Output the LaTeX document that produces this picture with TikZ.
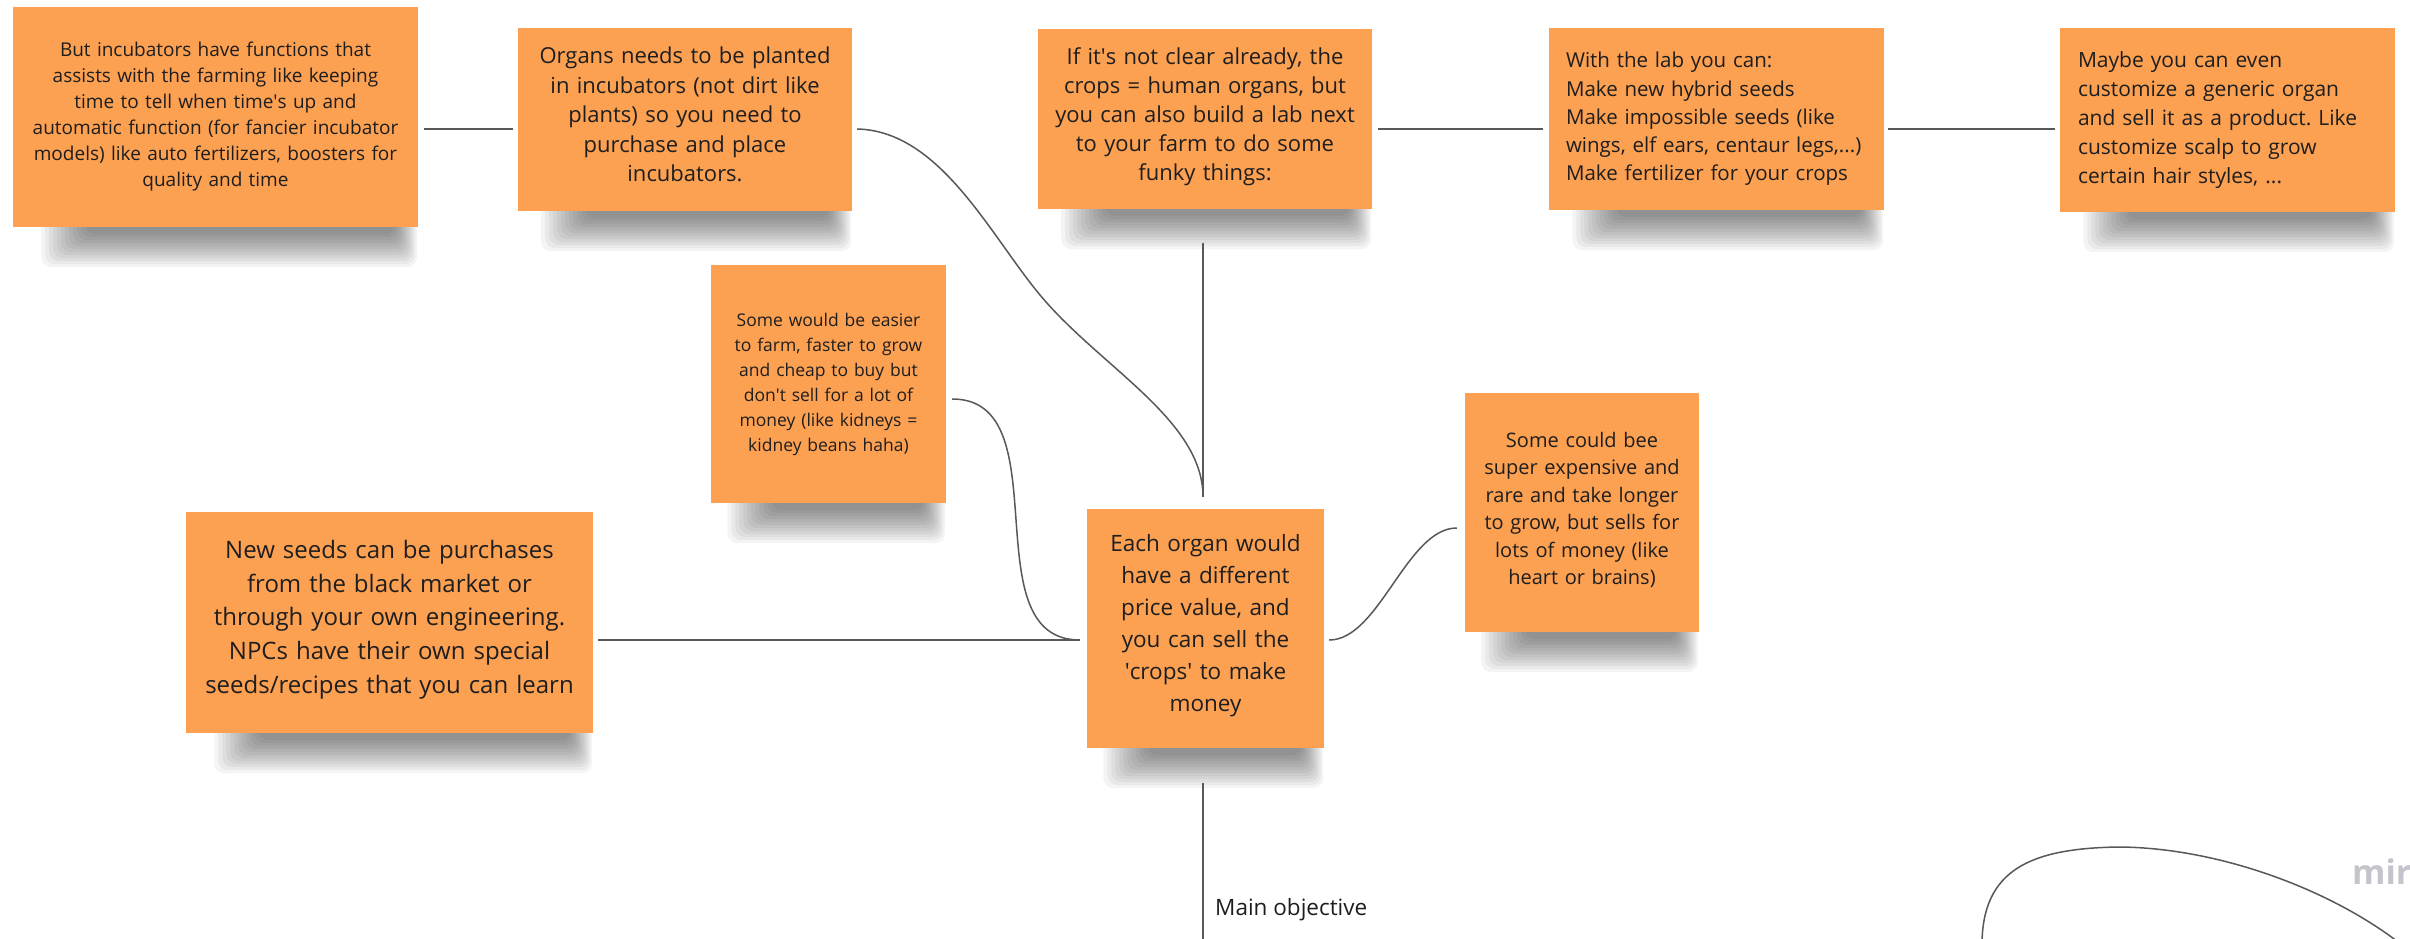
\documentclass[tikz,border=0pt]{standalone}
\usepackage{fontspec}
\setmainfont{Open Sans}
\frenchspacing
\usetikzlibrary{calc}
\pgfdeclarelayer{bg}
\pgfsetlayers{bg,main}

\definecolor{noteorange}{RGB}{252,160,82}
\definecolor{notetext}{RGB}{30,30,30}
\definecolor{linkgray}{RGB}{88,88,88}
\definecolor{watermark}{RGB}{196,196,204}

\newcommand{\apos}{\textquotesingle}
\newcommand{\fsz}[2]{\fontsize{#1pt}{#2pt}\selectfont}

% soft drop shadow under the bottom edge of a sticky note
\newcommand{\notedrop}[1]{%
  \foreach \i in {0,...,11}{%
    \fill[black,opacity=0.045,rounded corners=10pt]
      let \p1=(#1.south west), \p2=(#1.south east) in
      ({\x1+0.07*(\x2-\x1)+4pt*\i},{\y1+15pt}) rectangle
      ({\x2-1pt-2pt*\i},{\y1-40pt+3pt*\i});
  }%
}

\tikzset{
  note/.style={fill=noteorange, text=notetext, inner xsep=5pt, inner ysep=0pt,
    align=center, anchor=center},
  leftnote/.style={note, align=left},
  lift/.style={execute at end node={\par\vspace*{#1}}},
  conn/.style={draw=linkgray, line width=1.5pt},
}

\begin{document}
\begin{tikzpicture}[x=1pt,y=-1pt]
\useasboundingbox (0,0) rectangle (2410,939);
\clip (0,0) rectangle (2410,939);

% sticky notes
\node[note, minimum width=405pt, minimum height=220pt, text width=395pt, font=\fsz{19}{26}] (A) at (215.5,117)
  {But incubators have functions that\\assists with the farming like keeping\\time to tell when time\apos s up and\\automatic function (for fancier incubator\\models) like auto fertilizers, boosters for\\quality and time};
\node[note, lift=10pt, minimum width=334pt, minimum height=183pt, text width=324pt, font=\fsz{22}{29.4}] (B) at (685,119.5)
  {Organs needs to be planted\\in incubators (not dirt like\\plants) so you need to\\purchase and place\\incubators.};
\node[note, lift=5pt, minimum width=334pt, minimum height=180pt, text width=324pt, font=\fsz{22}{29}] (C) at (1205,119)
  {If it\apos s not clear already, the\\crops = human organs, but\\you can also build a lab next\\to your farm to do some\\funky things:};
\node[leftnote, inner xsep=17pt, minimum width=335pt, minimum height=182pt, text width=301pt, font=\fsz{20.5}{28.3}] (D) at (1716.5,119)
  {With the lab you can:\\Make new hybrid seeds\\Make impossible seeds (like\\wings, elf ears, centaur legs,...)\\Make fertilizer for your crops};
\node[leftnote, inner xsep=18pt, minimum width=335pt, minimum height=184pt, text width=299pt, font=\fsz{21}{29}] (E) at (2227.5,120)
  {Maybe you can even\\customize a generic organ\\and sell it as a product. Like\\customize scalp to grow\\certain hair styles, ...};
\node[note, minimum width=235pt, minimum height=238pt, text width=225pt, font=\fsz{17.5}{25}] (F) at (828.5,384)
  {Some would be easier\\to farm, faster to grow\\and cheap to buy but\\don\apos t sell for a lot of\\money (like kidneys =\\kidney beans haha)};
\node[note, lift=6pt, minimum width=237pt, minimum height=239pt, text width=227pt, font=\fsz{22.5}{32}] (G) at (1205.5,628.5)
  {Each organ would\\have a different\\price value, and\\you can sell the\\\apos crops\apos{} to make\\money};
\node[note, lift=5pt, minimum width=234pt, minimum height=239pt, text width=224pt, font=\fsz{20}{27.4}] (H) at (1582,512.5)
  {Some could bee\\super expensive and\\rare and take longer\\to grow, but sells for\\lots of money (like\\heart or brains)};
\node[note, lift=6pt, minimum width=407pt, minimum height=221pt, text width=397pt, font=\fsz{24}{33.7}] (I) at (389.5,622.5)
  {New seeds can be purchases\\from the black market or\\through your own engineering.\\NPCs have their own special\\seeds/recipes that you can learn};

\begin{pgfonlayer}{bg}
  \fill[white] (0,0) rectangle (2410,939);
  \foreach \notename in {A,B,C,D,E,F,G,H,I}{\notedrop{\notename}}
\end{pgfonlayer}

% heights at which the connectors meet the notes
\coordinate (row) at (0,129);
\coordinate (ig) at (0,640);
\coordinate (fg) at (0,399);
\coordinate (gh) at (0,528);
\coordinate (bgmid) at (1040,295);

% straight links along the top row
\draw[conn] ($(A.east |- row)+(6,0)$) -- ($(B.west |- row)+(-5,0)$);
\draw[conn] ($(C.east |- row)+(6,0)$) -- ($(D.west |- row)+(-6,0)$);
\draw[conn] ($(D.east |- row)+(4,0)$) -- ($(E.west |- row)+(-5,0)$);

% links into the central note
\draw[conn] ($(B.east |- row)+(5,0)$) .. controls +(83,2) and +(-50,-60) .. (bgmid)
  .. controls +(60,72) and +(0,-77) .. ($(G.north)+(-2.5,-12)$);
\draw[conn] ($(C.south)+(-2,34)$) -- ($(G.north)+(-2.5,-12)$);
\draw[conn] ($(F.east |- fg)+(6,0)$) .. controls +(110,0) and +(-110,0) .. ($(G.west |- ig)+(-7,0)$);
\draw[conn] ($(I.east |- ig)+(5,0)$) -- ($(G.west |- ig)+(-7,0)$);
\draw[conn] ($(G.east |- ig)+(5,0)$) .. controls +(50,0) and +(-50,0) .. ($(H.west |- gh)+(-8,0)$);

% line down to the main objective
\coordinate (objend) at (1203,945);
\draw[conn] ($(G.south)+(-2.5,35)$) -- (objend);
\node[anchor=base west, text=notetext, font=\fsz{22.5}{27}, inner sep=0pt] (obj) at (1215,915) {Main objective};

% loose curve at the lower right
\coordinate (cl) at (1982,945);
\coordinate (cm) at (2120,847);
\coordinate (cr) at (2402,945);
\draw[conn] (cl) .. controls +(0,-75) and +(-90,1) .. (cm) .. controls +(100,1) and +(-70,-55) .. (cr);

% board watermark
\node[anchor=base west, text=watermark, font=\fsz{34}{34}\bfseries, inner sep=0pt] (wm) at (2352,884) {miro};
\end{tikzpicture}
\end{document}
